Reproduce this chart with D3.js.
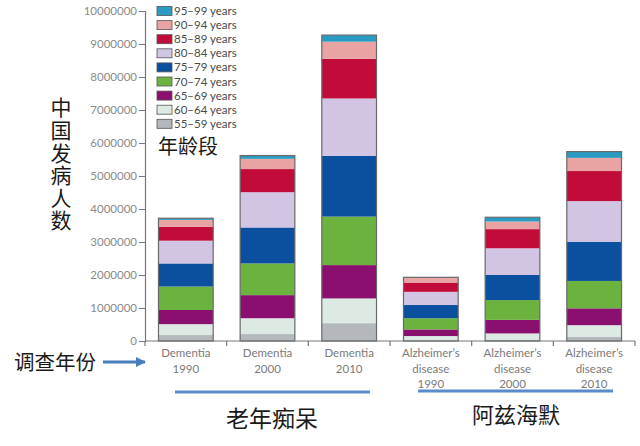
<!DOCTYPE html>
<html>
<head>
<meta charset="utf-8">
<script src="https://cdn.jsdelivr.net/npm/d3@7"></script>
<style>
  html, body { margin: 0; padding: 0; background: #fff; }
  svg { display: block; }
</style>
</head>
<body>
<svg id="chart" width="640" height="446"></svg>
<script>
// ---- data (values in millions) ----
const categories = ["Dementia 1990", "Dementia 2000", "Dementia 2010",
                    "Alzheimer's disease 1990", "Alzheimer's disease 2000", "Alzheimer's disease 2010"];
const categoryLabels = [
  ["Dementia", "1990"], ["Dementia", "2000"], ["Dementia", "2010"],
  ["Alzheimer\u2019s", "disease", "1990"], ["Alzheimer\u2019s", "disease", "2000"], ["Alzheimer\u2019s", "disease", "2010"]
];
const ageGroups = ["55\u201359 years", "60\u201364 years", "65\u201369 years", "70\u201374 years",
                   "75\u201379 years", "80\u201384 years", "85\u201389 years", "90\u201394 years", "95\u201399 years"];
const age5559 = [0.18, 0.21, 0.54, 0.02, 0.03, 0.13];
const age6064 = [0.33, 0.48, 0.75, 0.13, 0.20, 0.35];
const age6569 = [0.43, 0.70, 1.01, 0.20, 0.41, 0.51];
const age7074 = [0.71, 0.96, 1.47, 0.34, 0.60, 0.83];
const age7579 = [0.70, 1.09, 1.84, 0.40, 0.76, 1.19];
const age8084 = [0.69, 1.07, 1.74, 0.40, 0.81, 1.23];
const age8589 = [0.42, 0.70, 1.20, 0.28, 0.58, 0.91];
const age9094 = [0.21, 0.31, 0.52, 0.14, 0.23, 0.40];
const age9599 = [0.05, 0.10, 0.20, 0.02, 0.13, 0.19];
const seriesValues = [age5559, age6064, age6569, age7074, age7579, age8084, age8589, age9094, age9599];
const colors = ["#b3b8bc", "#dde9e3", "#8b0f6e", "#6bb23f", "#0b4f9f", "#d1c5e3", "#c10b38", "#e9a3a3", "#2a9cc4"];
const yTicks = [0, 1000000, 2000000, 3000000, 4000000, 5000000, 6000000, 7000000, 8000000, 9000000, 10000000];

// ---- build table ----
const rows = categories.map((c, i) => {
  const r = { cat: c };
  ageGroups.forEach((g, j) => { r[g] = seriesValues[j][i] * 1e6; });
  return r;
});
const stack = d3.stack().keys(ageGroups)(rows);

const svg = d3.select("#chart");
const x = d3.scaleBand().domain(categories).range([145, 635]).paddingInner(0.33).paddingOuter(0.165);
const y = d3.scaleLinear().domain([0, 10000000]).range([341, 11]);
const color = d3.scaleOrdinal().domain(ageGroups).range(colors);

// y axis
const yAxis = svg.append("g").attr("transform", "translate(145,0)")
  .call(d3.axisLeft(y).tickValues(yTicks).tickFormat(d3.format("d")).tickSize(6).tickPadding(2));
yAxis.select(".domain").attr("stroke", "#777").attr("stroke-width", 1.2);
yAxis.selectAll(".tick line").attr("stroke", "#777");
yAxis.selectAll(".tick text").attr("fill", "#8a8a8a").style("font-family", "Lato, sans-serif").style("font-size", "11.5px");

// bars
svg.append("g").selectAll("g").data(stack).join("g")
  .attr("fill", d => color(d.key))
  .selectAll("rect").data(d => d).join("rect")
  .attr("x", d => x(d.data.cat))
  .attr("width", x.bandwidth())
  .attr("y", d => y(d[1]))
  .attr("height", d => y(d[0]) - y(d[1]));

// bar outlines
svg.append("g").selectAll("rect").data(rows).join("rect")
  .attr("x", d => x(d.cat))
  .attr("width", x.bandwidth())
  .attr("y", d => y(d3.sum(ageGroups, g => d[g])))
  .attr("height", d => y(0) - y(d3.sum(ageGroups, g => d[g])))
  .attr("fill", "none").attr("stroke", "#6a6a6a").attr("stroke-width", 1.2);

// x axis line + boundary ticks
const half = (x.step() - x.bandwidth()) / 2;
svg.append("line").attr("x1", 145).attr("x2", 635).attr("y1", y(0)).attr("y2", y(0))
  .attr("stroke", "#777").attr("stroke-width", 1.2);
const bounds = categories.map(c => x(c) - half).concat([x(categories[categories.length - 1]) + x.bandwidth() + half]);
svg.append("g").selectAll("line").data(bounds).join("line")
  .attr("x1", d => d).attr("x2", d => d).attr("y1", y(0)).attr("y2", y(0) + 5)
  .attr("stroke", "#777").attr("stroke-width", 1.2);

// category labels
svg.append("g").selectAll("text").data(categories).join("text")
  .attr("x", d => x(d) + x.bandwidth() / 2)
  .attr("y", 357)
  .attr("text-anchor", "middle")
  .attr("fill", "#7a7a7a")
  .style("font-family", "Lato, sans-serif").style("font-size", "11.5px")
  .each(function(d, i) {
    const t = d3.select(this);
    categoryLabels[i].forEach((line, k) => {
      t.append("tspan").attr("x", x(d) + x.bandwidth() / 2).attr("dy", k === 0 ? 0 : 15.5).text(line);
    });
  });

// legend
const legend = svg.append("g").attr("transform", "translate(157,0)");
const legendOrder = ageGroups.slice().reverse();
legendOrder.forEach((g, i) => {
  const cy = 11 + i * 14.1;
  legend.append("rect").attr("x", 0).attr("y", cy - 4.5).attr("width", 15).attr("height", 9)
    .attr("fill", color(g)).attr("stroke", "#555").attr("stroke-width", 0.8);
  legend.append("text").attr("x", 17).attr("y", cy + 4).text(g)
    .attr("fill", "#4a4a4a").style("font-family", "Lato, sans-serif").style("font-size", "11.5px");
});

// Chinese annotations
const cjk = "'Noto Sans CJK SC', sans-serif";
svg.append("text").attr("x", 61).attr("y", 97)
  .style("writing-mode", "vertical-rl").style("text-orientation", "upright")
  .style("letter-spacing", "1.6px")
  .attr("fill", "#1a1a1a")
  .style("font-family", cjk).style("font-size", "21px").text("中国发病人数");

svg.append("text").attr("x", 158).attr("y", 154).text("年龄段")
  .attr("fill", "#1a1a1a").style("font-family", cjk).style("font-size", "20px");

svg.append("text").attr("x", 14).attr("y", 370).text("调查年份")
  .attr("fill", "#1a1a1a").style("font-family", cjk).style("font-size", "20.5px");

// arrow
svg.append("defs").append("marker").attr("id", "arrow")
  .attr("viewBox", "0 0 10 10").attr("refX", 9).attr("refY", 5)
  .attr("markerWidth", 3.5).attr("markerHeight", 3.5).attr("orient", "auto")
  .append("path").attr("d", "M0,0 L10,5 L0,10 Z").attr("fill", "#4a7dbd");
svg.append("line").attr("x1", 103).attr("x2", 145).attr("y1", 362).attr("y2", 362)
  .attr("stroke", "#4a7dbd").attr("stroke-width", 3).attr("marker-end", "url(#arrow)");

// group lines
svg.append("line").attr("x1", 175).attr("x2", 370).attr("y1", 392).attr("y2", 392)
  .attr("stroke", "#5a8ccb").attr("stroke-width", 3);
svg.append("line").attr("x1", 418).attr("x2", 613).attr("y1", 391).attr("y2", 391)
  .attr("stroke", "#5a8ccb").attr("stroke-width", 3);

svg.append("text").attr("x", 272).attr("y", 427).attr("text-anchor", "middle").text("老年痴呆")
  .attr("fill", "#1a1a1a").style("font-family", cjk).style("font-size", "23px");
svg.append("text").attr("x", 516).attr("y", 423).attr("text-anchor", "middle").text("阿兹海默")
  .attr("fill", "#1a1a1a").style("font-family", cjk).style("font-size", "22px");
</script>
</body>
</html>
